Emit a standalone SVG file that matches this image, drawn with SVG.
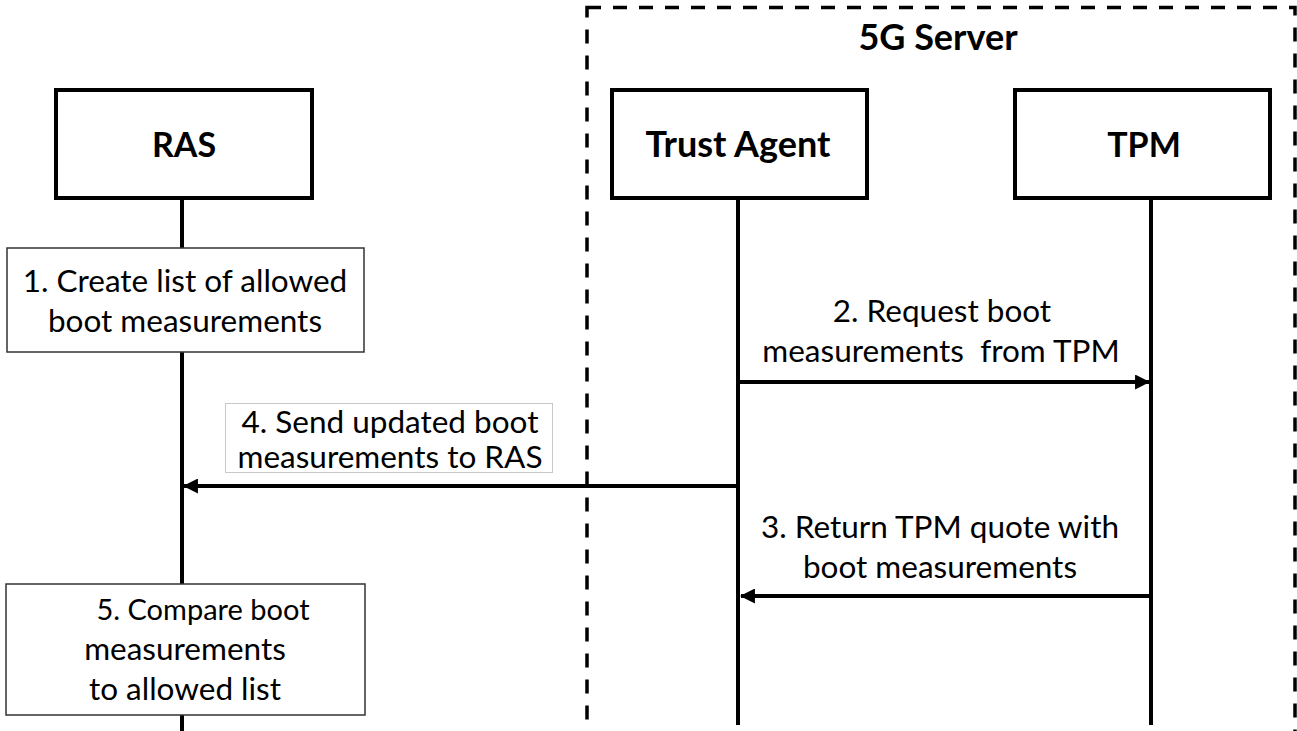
<svg xmlns="http://www.w3.org/2000/svg" width="1297" height="731" viewBox="0 0 1297 731">
<style>
.actor{fill:#fff;stroke:#000;stroke-width:4}
.title{font-family:Lato,"Liberation Sans",sans-serif;font-weight:bold;font-size:34px;fill:#000;text-anchor:middle}
.txt{font-family:Lato,"Liberation Sans",sans-serif;font-size:31.5px;fill:#000;text-anchor:middle}
.life{stroke:#000;stroke-width:4;fill:none}
.msg{stroke:#000;stroke-width:4;fill:none}
.note{fill:#fff;stroke:#333;stroke-width:1.5}
</style>
<defs>
<marker id="ah" viewBox="0 0 14 14" refX="13" refY="7" markerWidth="15" markerHeight="15" markerUnits="userSpaceOnUse" orient="auto">
<path d="M0,0 L14,7 L0,14 z" fill="#000"/>
</marker>
</defs>
<rect width="1297" height="731" fill="#fff"/>
<g id="server">
<rect x="587" y="7.5" width="708" height="740" fill="none" stroke="#000" stroke-width="3.5" stroke-dasharray="14 12"/>
<text class="title" x="938" y="50" style="font-size:36px">5G Server</text>
</g>
<g id="lifelines">
<line class="life" x1="182" y1="200" x2="182" y2="731"/>
<line class="life" x1="738" y1="200" x2="738" y2="725"/>
<line class="life" x1="1151" y1="200" x2="1151" y2="725"/>
</g>
<g id="ras">
<rect class="actor" x="56" y="90" width="256" height="108"/>
<text class="title" x="184" y="157">RAS</text>
</g>
<g id="trust-agent">
<rect class="actor" x="612" y="90" width="255" height="108"/>
<text class="title" x="738" y="157" style="font-size:36px">Trust Agent</text>
</g>
<g id="tpm">
<rect class="actor" x="1015" y="90" width="255" height="108"/>
<text class="title" x="1144" y="157">TPM</text>
</g>
<g id="step1">
<rect class="note" x="7" y="248" width="357" height="104"/>
<text class="txt" x="185" y="292">1. Create list of allowed</text>
<text class="txt" x="185" y="332">boot measurements</text>
</g>
<g id="step5">
<rect class="note" x="6" y="584" width="359" height="131"/>
<text class="txt" x="203" y="620" style="font-size:29px">5. Compare boot</text>
<text class="txt" x="185" y="660">measurements</text>
<text class="txt" x="185" y="700">to allowed list</text>
</g>
<g id="connectors">
<line class="msg" x1="738" y1="382" x2="1149" y2="382" marker-end="url(#ah)"/>
<line class="msg" x1="1153" y1="596" x2="741" y2="596" marker-end="url(#ah)"/>
<line class="msg" x1="738" y1="486" x2="184" y2="486" marker-end="url(#ah)"/>
</g>
<g id="label2">
<text class="txt" x="942" y="322">2. Request boot</text>
<text class="txt" x="941" y="362" xml:space="preserve">measurements  from TPM</text>
</g>
<g id="label3">
<text class="txt" x="940" y="538">3. Return TPM quote with</text>
<text class="txt" x="940" y="578">boot measurements</text>
</g>
<g id="label4">
<rect x="225.5" y="403.5" width="327" height="69" fill="#fff" stroke="#c8c8c8" stroke-width="1"/>
<text class="txt" x="390" y="433">4. Send updated boot</text>
<text class="txt" x="390" y="468">measurements to RAS</text>
</g>
</svg>
